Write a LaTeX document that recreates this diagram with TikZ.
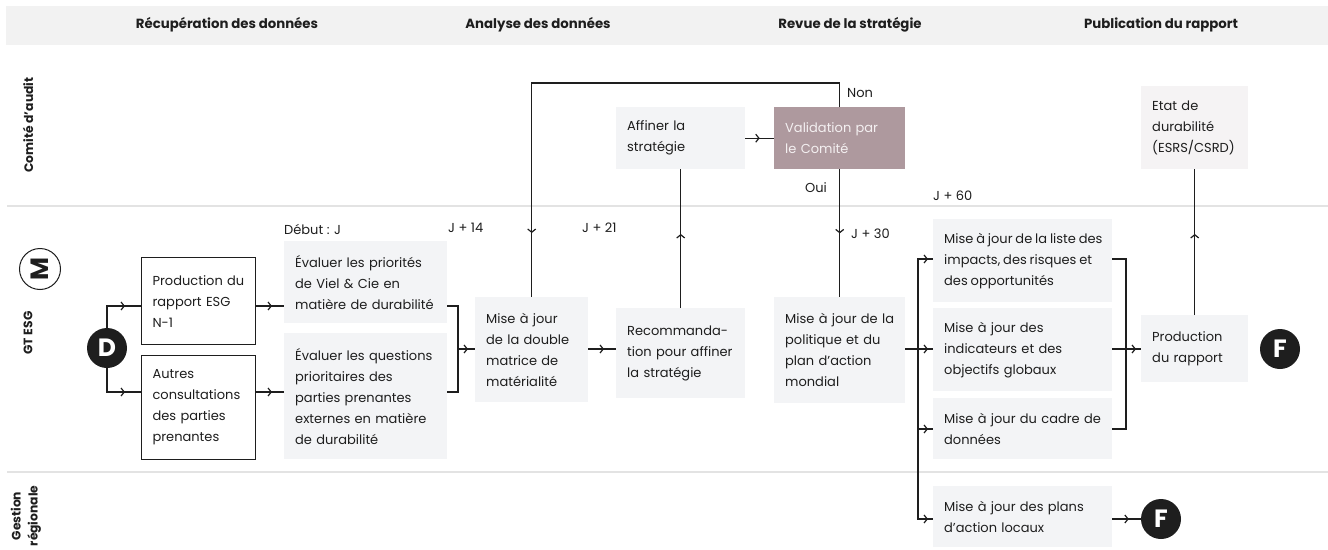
\documentclass[tikz,border=0pt]{standalone}
\usepackage{fontspec}
\setmainfont{Poppins}
\usetikzlibrary{arrows.meta,decorations.markings}

\definecolor{ink}{HTML}{1E1E1E}
\definecolor{cardgray}{HTML}{F3F4F6}
\definecolor{bandgray}{HTML}{F2F2F2}
\definecolor{lanerule}{HTML}{E3E3E3}
\definecolor{mauve}{HTML}{AE999E}
\definecolor{warmgray}{HTML}{F5F3F4}
\definecolor{paletext}{HTML}{F4F0F1}

\tikzset{
  card/.style n args={3}{anchor=north west, fill=cardgray, minimum width=#1,
    minimum height=#2, text width=#3, inner xsep=11pt, inner ysep=0pt,
    align=left, execute at begin node={\rightskip=0pt plus 1fil minus 60pt}},
  outlined/.style={fill=white, draw=ink, line width=1.2pt},
  flow/.style={draw=ink, line width=1.2pt},
  tipat/.style={postaction={decorate}, decoration={markings,
    mark=at position #1 with {\arrow{Straight Barb[length=3.2pt,width=8pt]}}}},
  tag/.style={anchor=west, inner sep=0pt},
  phase/.style={font=\fontsize{13.3}{15}\selectfont\bfseries, inner sep=0pt},
  lane/.style={font=\fontsize{12.3}{17}\selectfont\bfseries, rotate=90,
    inner sep=0pt, align=center},
  endpoint/.style={circle, fill=ink, minimum size=40pt, inner sep=0pt,
    text=white, font=\fontsize{25}{25}\selectfont\bfseries},
  tight/.style={execute at begin node={\rightskip=0pt plus 1fil minus 60pt\spaceskip=0.22em minus 0.05em}},
}

\begin{document}
\begin{tikzpicture}[x=1pt, y=-1pt, font=\fontsize{13}{21}\selectfont, text=ink]
\useasboundingbox (0,0) rectangle (1328,549);
\fill[white] (0,0) rectangle (1328,549);

% phase header band
\fill[bandgray] (6,6) rectangle (1328,45);
\node[phase] (h1) at (227,25) {Récupération des données};
\node[phase] (h2) at (538,25) {Analyse des données};
\node[phase] (h3) at (850,25) {Revue de la stratégie};
\node[phase] (h4) at (1161,25) {Publication du rapport};

% swimlane separators and titles
\draw[lanerule, line width=1.5pt] (7,206) -- (1328,206);
\draw[lanerule, line width=1.5pt] (7,472) -- (1328,472);
\node[lane] (l1) at (28,125) {Comité d'audit};
\node[lane] (l2) at (28,333) {GT ESG};
\node[lane] (l3) at (26,516) {Gestion\\régionale};

% logo badge
\node[circle, draw=ink, line width=1pt, minimum size=41pt, inner sep=0pt,
  rotate=90, font=\fontsize{25}{25}\selectfont\bfseries] (mb) at (40,269) {M};

% start and end points
\node[endpoint] (D) at (107,348) {D};
\node[endpoint] (F1) at (1280,349) {F};
\node[endpoint] (F2) at (1161,519) {F};

% process steps
\node[card={114pt}{87pt}{92pt}, outlined] (prod1) at (141,257) {Production du\\rapport ESG\\N-1};
\node[card={114pt}{104pt}{92pt}, outlined] (autres) at (141,355) {Autres\\consultations\\des parties\\prenantes};
\node[card={163pt}{82pt}{141pt}] (ev1) at (284,241) {Évaluer les priorités\\de Viel \& Cie en\\matière de durabilité};
\node[card={163pt}{126pt}{141pt}] (ev2) at (284,333) {Évaluer les questions\\prioritaires des\\parties prenantes\\externes en matière\\de durabilité};
\node[card={113pt}{105pt}{91pt}] (maj) at (475,297) {Mise à jour\\de la double\\matrice de\\matérialité};
\node[card={129pt}{90pt}{107pt}] (reco) at (616,308) {Recommanda-\\tion pour affiner\\la stratégie};
\node[card={131pt}{106pt}{109pt}] (pol) at (774,297) {Mise à jour de la\\politique et du\\plan d'action\\mondial};
\node[card={129pt}{62pt}{107pt}] (aff) at (616,107) {Affiner la\\stratégie};
\node[card={131pt}{62pt}{109pt}, fill=mauve, text=paletext] (val) at (774,107) {Validation par\\le Comité};
\node[card={107pt}{83pt}{85pt}, fill=warmgray] (etat) at (1141,86) {Etat de\\durabilité\\(ESRS/CSRD)};
\node[card={179pt}{83pt}{157pt}, tight] (liste) at (933,219) {Mise à jour de la liste des\\impacts, des risques et\\des opportunités};
\node[card={179pt}{83pt}{157pt}] (indic) at (933,308) {Mise à jour des\\indicateurs et des\\objectifs globaux};
\node[card={179pt}{61pt}{157pt}] (cadre) at (933,398) {Mise à jour du cadre de\\données};
\node[card={179pt}{61pt}{157pt}] (locaux) at (933,486) {Mise à jour des plans\\d'action locaux};
\node[card={107pt}{67pt}{85pt}] (prodr) at (1141,315) {Production\\du rapport};

% milestones and decision labels
\node[tag] (t0) at (284,229) {Début : J};
\node[tag] (t14) at (448,228) {J + 14};
\node[tag] (t21) at (582,228) {J + 21};
\node[tag] (t30) at (851,234) {J + 30};
\node[tag] (t60) at (933,196) {J + 60};
\node[tag] (non) at (847,93) {Non};
\node[tag] (oui) at (805,188) {Oui};

% connector rows and junctions
\coordinate (rA) at (0,306);
\coordinate (rB) at (0,392);
\coordinate (rC) at (0,349);
\coordinate (rD) at (0,259);
\coordinate (rE) at (0,429);
\coordinate (rF) at (0,519);
\coordinate (loop) at (0,83);
\coordinate (j1) at (458,349);
\coordinate (j2) at (918,349);
\coordinate (j3) at (1126,349);

% connectors
\draw[flow, tipat=-16pt] (D.north) |- (prod1.west |- rA);
\draw[flow, tipat=-16pt] (D.south) |- (autres.west |- rB);
\draw[flow, tipat=-12pt] (prod1.east |- rA) -- (ev1.west |- rA);
\draw[flow, tipat=-12pt] (autres.east |- rB) -- (ev2.west |- rB);
\draw[flow, tipat=-7pt] (ev1.east |- rA) -| (j1) -- (maj.west |- rC);
\draw[flow] (ev2.east |- rB) -| (j1);
\draw[flow, tipat=-12pt] (maj.east |- rC) -- (reco.west |- rC);
\draw[flow, tipat=74pt] (reco.north) -- (aff.south);
\draw[flow, tipat=0.5] (aff.east) -- (val.west);
\draw[flow, tipat=-64pt] (val.north) -- (val.north |- loop) -| (maj.north);
\draw[flow, tipat=64pt] (val.south) -- (pol.north);
\draw[flow, tipat=-5pt] (pol.east |- rC) -- (indic.west |- rC);
\draw[flow, tipat=-5pt] (j2) |- (liste.west |- rD);
\draw[flow, tipat=-5pt] (j2) |- (cadre.west |- rE);
\draw[flow, tipat=-5pt] (j2) |- (locaux.west |- rF);
\draw[flow] (liste.east |- rD) -| (j3);
\draw[flow] (cadre.east |- rE) -| (j3);
\draw[flow, tipat=-5pt] (indic.east |- rC) -- (prodr.west |- rC);
\draw[flow, tipat=81pt] (prodr.north) -- (etat.south);
\draw[flow, tipat=-12pt] (locaux.east |- rF) -- (F2.west);
\end{tikzpicture}
\end{document}
